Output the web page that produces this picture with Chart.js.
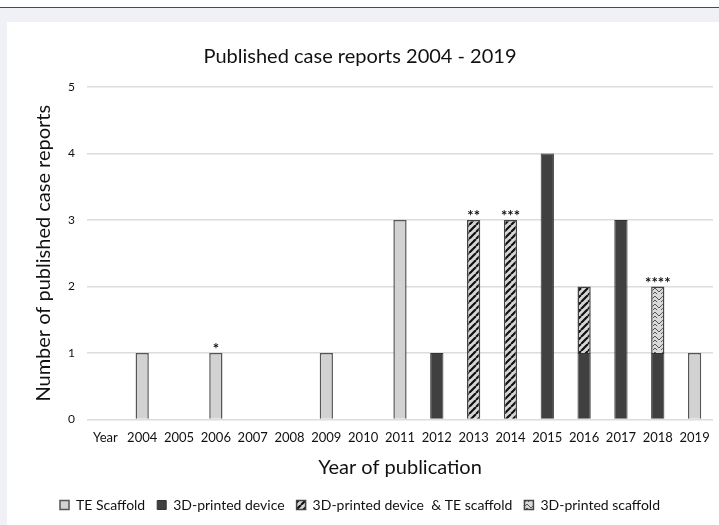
<!DOCTYPE html>
<html>
<head>
<meta charset="utf-8">
<script src="https://cdn.jsdelivr.net/npm/chart.js@4/dist/chart.umd.min.js"></script>
<style>
  html, body { margin: 0; padding: 0; background: #fff; }
  body { width: 719px; height: 525px; position: relative; overflow: hidden; }
  .frame { position: absolute; left: 0; top: 7px; width: 719px; height: 518px; background: #eff1f6; border-top: 1px solid #4a4a4a; }
  .panel { position: absolute; left: 7px; top: 22px; width: 712px; height: 503px; background: #fff; }
</style>
</head>
<body>
<div class="frame"></div>
<div class="panel"><canvas id="chart"></canvas></div>
<script>
const years = ['Year', '2004', '2005', '2006', '2007', '2008', '2009', '2010', '2011', '2012', '2013', '2014', '2015', '2016', '2017', '2018', '2019'];
const teScaffold = [null, 1, null, 1, null, null, 1, null, 3, null, null, null, null, null, null, null, 1];
const printedDevice = [null, null, null, null, null, null, null, null, null, 1, null, null, 4, 1, 3, 1, null];
const deviceAndTe = [null, null, null, null, null, null, null, null, null, null, 3, 3, null, 1, null, null, null];
const printedScaffold = [null, null, null, null, null, null, null, null, null, null, null, null, null, null, null, 1, null];
const stars = { '2006': '*', '2013': '**', '2014': '***', '2018': '****' };

const FONT = 'Lato, "Open Sans", sans-serif';
const INK = '#111';

function stripes() {
  const c = document.createElement('canvas');
  c.width = 7; c.height = 7;
  const g = c.getContext('2d');
  g.fillStyle = '#d6d6d6';
  g.fillRect(0, 0, 7, 7);
  g.strokeStyle = '#111';
  g.lineWidth = 2.2;
  g.beginPath();
  for (let k = -7; k <= 14; k += 7) { g.moveTo(k, 7); g.lineTo(k + 7, 0); }
  g.stroke();
  return g.createPattern(c, 'repeat');
}

function weave() {
  const c = document.createElement('canvas');
  c.width = 8; c.height = 8;
  const g = c.getContext('2d');
  g.fillStyle = '#d9d9d9';
  g.fillRect(0, 0, 8, 8);
  g.strokeStyle = '#555';
  g.lineWidth = 1;
  g.beginPath();
  g.moveTo(0, 2); g.lineTo(4, 6); g.lineTo(8, 2);
  g.moveTo(0, 6); g.lineTo(2, 8);
  g.moveTo(6, 8); g.lineTo(8, 6);
  g.stroke();
  return g.createPattern(c, 'repeat');
}

// asterisks above the stacked bars
const starPlugin = {
  id: 'stars',
  afterDatasetsDraw(chart) {
    const { ctx, scales } = chart;
    ctx.save();
    ctx.fillStyle = INK;
    ctx.font = 'bold 15px ' + FONT;
    ctx.textAlign = 'center';
    ctx.textBaseline = 'bottom';
    Object.keys(stars).forEach((yr) => {
      const i = years.indexOf(yr);
      const total = [teScaffold, printedDevice, deviceAndTe, printedScaffold].reduce((s, d) => s + (d[i] || 0), 0);
      ctx.fillText(stars[yr], scales.x.getPixelForValue(i), scales.y.getPixelForValue(total) + 4);
    });
    ctx.restore();
  },
};

new Chart(document.getElementById('chart'), {
  type: 'bar',
  data: {
    labels: years,
    datasets: [
      { label: 'TE Scaffold', data: teScaffold, backgroundColor: '#d2d2d2', borderColor: '#555', borderWidth: 1.5 },
      { label: '3D-printed device', data: printedDevice, backgroundColor: '#404040', borderColor: '#333', borderWidth: 1 },
      { label: '3D-printed device  & TE scaffold', data: deviceAndTe, backgroundColor: stripes(), borderColor: '#444', borderWidth: 1.5 },
      { label: '3D-printed scaffold', data: printedScaffold, backgroundColor: weave(), borderColor: '#444', borderWidth: 1.5 },
    ],
  },
  options: {
    responsive: true,
    maintainAspectRatio: false,
    animation: false,
    layout: { padding: { left: 0, right: 6, top: 0, bottom: 3 } },
    datasets: { bar: { barPercentage: 0.36, categoryPercentage: 1 } },
    plugins: {
      title: { display: true, text: 'Published case reports 2004 - 2019', color: INK, font: { family: FONT, size: 20, weight: 'normal' }, padding: { top: 23, bottom: 18 } },
      legend: {
        position: 'bottom',
        labels: { color: INK, font: { family: FONT, size: 14 }, boxWidth: 9, boxHeight: 9, padding: 12 },
      },
      tooltip: { enabled: false },
    },
    scales: {
      x: {
        stacked: true,
        grid: { display: false },
        border: { display: false },
        ticks: { color: INK, font: { family: FONT, size: 13 }, maxRotation: 0, autoSkip: false, padding: 3 },
        title: { display: true, text: 'Year of publication', color: INK, font: { family: FONT, size: 20 }, padding: { top: 7, bottom: 6 } },
      },
      y: {
        stacked: true,
        min: 0,
        max: 5,
        ticks: { stepSize: 1, color: INK, font: { family: FONT, size: 12 }, padding: 12 },
        grid: { color: '#dcdcdc', lineWidth: 1.5, drawTicks: false },
        border: { display: false },
        title: { display: true, text: 'Number of published case reports', color: INK, font: { family: FONT, size: 20 }, padding: { top: 25, bottom: 0 } },
      },
    },
  },
  plugins: [starPlugin],
});
</script>
</body>
</html>
